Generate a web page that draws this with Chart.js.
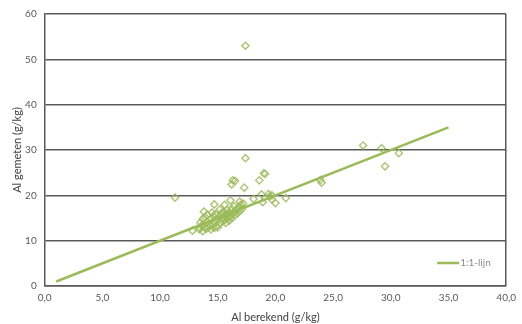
<!DOCTYPE html>
<html>
<head>
<meta charset="utf-8">
<script src="https://cdn.jsdelivr.net/npm/chart.js@4/dist/chart.umd.min.js"></script>
<style>
  html, body { margin: 0; padding: 0; background: #fff; }
  #wrap { width: 522px; height: 324px; }
</style>
</head>
<body>
<div id="wrap"><canvas id="c" width="522" height="324"></canvas></div>
<script>
// Calculated (berekend) vs. measured (gemeten) aluminium, g/kg
const alBerekend = [
  12.8, 13.4, 13.5, 13.6, 13.7, 13.7, 13.9, 13.9, 14.0, 14.1, 14.1, 14.3, 14.4, 14.4,
  14.6, 14.6, 14.7, 14.7, 14.8, 14.9, 15.0, 15.0, 15.1, 15.2, 15.3, 15.4, 15.4, 15.5,
  15.6, 15.6, 15.7, 15.8, 15.9, 16.0, 16.0, 16.1, 16.2, 16.2, 16.3, 16.4, 16.5, 16.6,
  16.7, 16.8, 16.9, 17.0, 17.1, 17.2, 15.2, 14.5, 13.8, 13.5, 14.2, 15.8, 16.5,
  11.3, 14.7, 15.6, 16.1, 16.9, 16.2, 16.5, 16.3, 17.3, 17.4, 17.4, 18.1, 18.6, 18.8,
  18.9, 19.1, 19.0, 19.4, 19.7, 19.7, 20.0, 19.5, 20.9, 23.9, 24.0, 27.6, 29.2, 29.5,
  30.7
];
const alGemeten = [
  12.2, 12.5, 14.0, 13.3, 12.1, 14.8, 13.0, 15.2, 12.6, 14.1, 15.7, 13.4, 12.5, 14.8,
  13.5, 15.4, 12.8, 14.3, 15.8, 13.2, 14.6, 12.9, 15.3, 13.8, 16.0, 14.2, 15.0, 16.4,
  14.6, 15.6, 13.9, 16.8, 15.1, 14.4, 16.2, 15.3, 17.0, 14.9, 16.0, 17.6, 15.6, 16.8,
  16.0, 17.3, 16.5, 17.9, 17.0, 18.2, 16.9, 16.2, 16.4, 12.8, 13.0, 15.9, 16.3,
  19.5, 18.0, 17.9, 18.9, 18.6, 22.4, 23.2, 23.3, 21.7, 28.2, 53.0, 19.2, 23.3, 20.2,
  18.5, 24.7, 24.9, 20.3, 20.0, 19.1, 18.3, 19.8, 19.4, 23.4, 22.8, 31.0, 30.4, 26.4,
  29.3
];

// Reference line y = x
const lijnX = [1, 35];
const lijnY = [1, 35];
const lijnLabel = '1:1-lijn';

// Axis ranges and captions
const xTicks = { min: 0, max: 40, step: 5 };
const yTicks = { min: 0, max: 60, step: 10 };
const xTitle = 'Al berekend (g/kg)';
const yTitle = 'Al gemeten (g/kg)';

const green = '#9BBB59';
const gridColor = '#595959';
const textColor = '#595959';
const fontFamily = 'Lato, "Open Sans", sans-serif';

const punten = alBerekend.map((x, i) => ({ x, y: alGemeten[i] }));
const lijn = lijnX.map((x, i) => ({ x, y: lijnY[i] }));

// Legend entry drawn inside the plot area, lower right
const innerLegend = {
  id: 'innerLegend',
  afterDraw(chart) {
    const { ctx, chartArea } = chart;
    const ds = chart.data.datasets[1];
    const y = chartArea.bottom - 23;
    const x0 = chartArea.right - 69;
    ctx.save();
    ctx.strokeStyle = ds.borderColor;
    ctx.lineWidth = ds.borderWidth;
    ctx.beginPath();
    ctx.moveTo(x0, y);
    ctx.lineTo(x0 + 22, y);
    ctx.stroke();
    ctx.fillStyle = '#8c8c8c';
    ctx.font = '10px ' + fontFamily;
    ctx.textBaseline = 'middle';
    ctx.fillText(ds.label, x0 + 23, y);
    ctx.restore();
  }
};

new Chart(document.getElementById('c'), {
  data: {
    datasets: [
      {
        type: 'scatter',
        label: 'Al',
        data: punten,
        pointStyle: 'rectRot',
        pointRadius: 3.6,
        pointBorderWidth: 1.4,
        borderColor: 'rgba(155,187,89,0.85)',
        backgroundColor: 'rgba(255,255,255,0)',
        order: 2
      },
      {
        type: 'line',
        label: lijnLabel,
        data: lijn,
        borderColor: green,
        borderWidth: 2.5,
        pointRadius: 0,
        fill: false,
        order: 1
      }
    ]
  },
  options: {
    responsive: false,
    animation: false,
    layout: { padding: { top: 13, right: 0, left: 0, bottom: 0 } },
    plugins: {
      legend: { display: false },
      tooltip: { enabled: false }
    },
    scales: {
      x: {
        type: 'linear',
        min: xTicks.min,
        max: xTicks.max,
        afterFit(scale) { scale.height = 38; },
        ticks: {
          stepSize: xTicks.step,
          color: textColor,
          font: { family: fontFamily, size: 10 },
          padding: 6,
          maxRotation: 0,
          callback: v => v.toFixed(1).replace('.', ',')
        },
        grid: {
          drawTicks: false,
          color: ctx => (ctx.tick && ctx.tick.value === xTicks.max) ? gridColor : 'rgba(0,0,0,0)',
          lineWidth: 1.5
        },
        border: { display: true, color: gridColor, width: 1.5 },
        title: {
          display: true,
          text: xTitle,
          color: '#404040',
          font: { family: fontFamily, size: 11 },
          padding: { top: 2, bottom: 0 }
        }
      },
      y: {
        type: 'linear',
        min: yTicks.min,
        max: yTicks.max,
        afterFit(scale) { scale.width = 44.7; },
        ticks: {
          stepSize: yTicks.step,
          color: textColor,
          font: { family: fontFamily, size: 10 },
          padding: 8
        },
        grid: {
          drawTicks: false,
          color: gridColor,
          lineWidth: 1.5
        },
        border: { display: true, color: gridColor, width: 1.5 },
        title: {
          display: true,
          text: yTitle,
          color: '#404040',
          font: { family: fontFamily, size: 11 },
          padding: { top: 11, bottom: 0 }
        }
      }
    }
  },
  plugins: [innerLegend]
});
</script>
</body>
</html>
